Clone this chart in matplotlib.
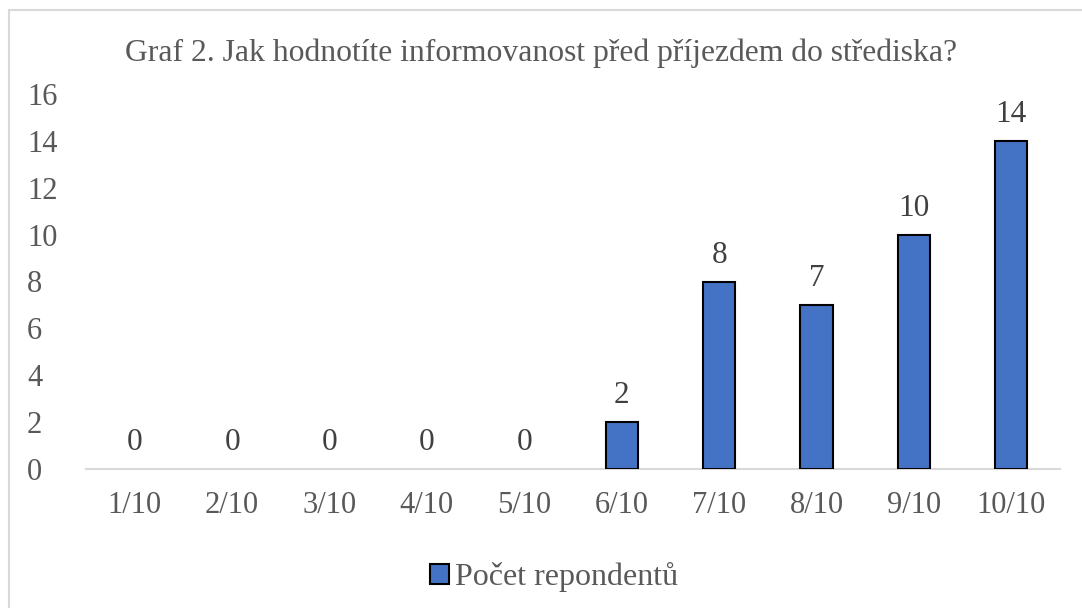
import matplotlib.pyplot as plt
from matplotlib.patches import Rectangle, Patch

categories = ['1/10', '2/10', '3/10', '4/10', '5/10', '6/10', '7/10', '8/10', '9/10', '10/10']
respondents = [0, 0, 0, 0, 0, 2, 8, 7, 10, 14]
series_name = 'Počet repondentů'
title = 'Graf 2. Jak hodnotíte informovanost před příjezdem do střediska?'

plt.rcParams['font.family'] = ['Liberation Serif', 'DejaVu Serif']

fig = plt.figure(figsize=(10.82, 6.08), dpi=100)
W, H = 1082, 608

# light grey chart frame (right / bottom edges lie outside the crop)
fig.patches.append(Rectangle((9 / W, -0.1), 1.2, 1 - 10 / H + 0.1, transform=fig.transFigure,
                             fill=False, edgecolor='#D9D9D9', linewidth=1.5))

# axes: x from 86 to 1060 px, y from 469 (0) to 94 (16)
ax = fig.add_axes([86 / W, 1 - 469 / H, (1060 - 86) / W, (469 - 94) / H])

x = list(range(len(categories)))
bars = ax.bar(x, respondents, width=0.33, color='#4472C4', edgecolor='black', linewidth=1.5,
              zorder=3)
for b, v in zip(bars, respondents):
    if v == 0:
        b.set_linewidth(0)
for xi, v in zip(x, respondents):
    ax.text(xi, v + 0.5, str(v), ha='center', va='bottom', fontsize=22.5, color='#404040')

ax.set_xlim(-0.5, len(categories) - 0.5)
ax.set_ylim(0, 16)
ax.set_yticks(range(0, 17, 2))
ax.set_xticks(x)
ax.set_xticklabels(categories)

for s in ['top', 'right', 'left']:
    ax.spines[s].set_visible(False)
ax.spines['bottom'].set_color('#D9D9D9')
ax.spines['bottom'].set_linewidth(1.5)
ax.tick_params(axis='both', length=0, labelsize=22, labelcolor='#595959')
ax.tick_params(axis='y', pad=42.5)
ax.tick_params(axis='x', pad=16)
for lbl in ax.get_yticklabels():
    lbl.set_horizontalalignment('left')

fig.text(0.5, 1 - 53 / H, title, ha='center', va='center', fontsize=22.8, color='#595959')

handle = Patch(facecolor='#4472C4', edgecolor='black', linewidth=1.5)
fig.legend(handles=[handle], labels=[series_name], loc='center', bbox_to_anchor=(0.512, 1 - 577 / H),
           frameon=False, fontsize=23, labelcolor='#595959', handlelength=0.6, handleheight=0.6,
           handletextpad=0.2)

fig.savefig('out.png', dpi=100)
